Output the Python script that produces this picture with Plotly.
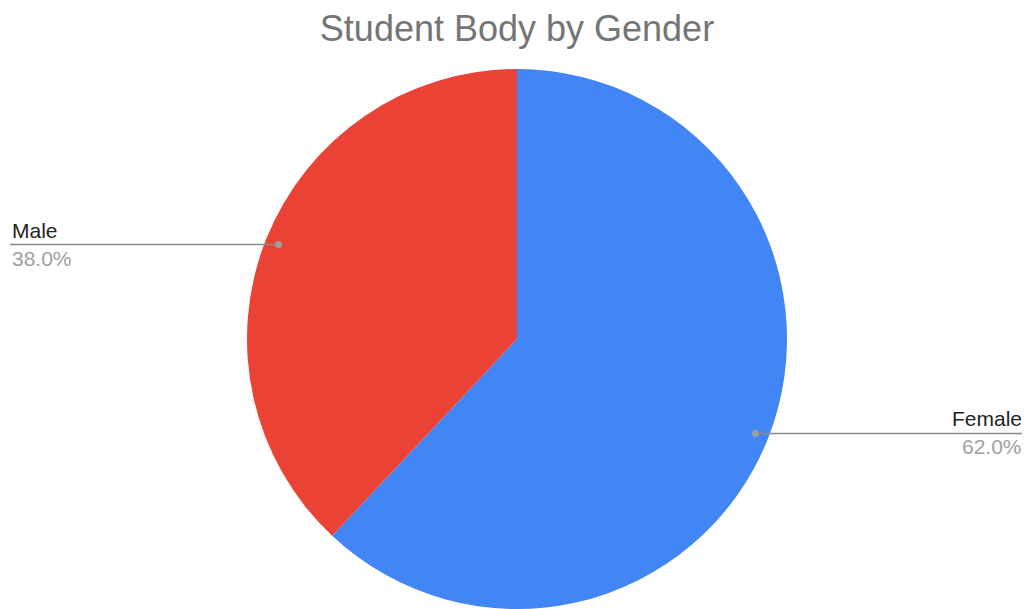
import math
import plotly.graph_objects as go

labels = ["Female", "Male"]
values = [62.0, 38.0]
colors = ["#4285F4", "#EA4335"]
title = "Student Body by Gender"

# page body has an 8px margin, so the figure is sized to fit inside the viewport
W, H = 1022, 601
ML, MR, MT, MB = 0, 4, 61, 0
pw, ph = W - ML - MR, H - MT - MB
R = min(pw, ph) / 2
cx, cy = ML + pw / 2, MT + ph / 2
FONT = "Liberation Sans, Arial"


def to_paper(px, py):
    return (px - ML) / pw, 1 - (py - MT) / ph


fig = go.Figure(go.Pie(
    labels=labels, values=values, sort=False, direction="clockwise",
    rotation=0, marker=dict(colors=colors, line=dict(width=0)),
    textinfo="none", hoverinfo="label+percent", showlegend=False,
))

total = sum(values)
start = 0.0
annotations = []
shapes = []
for lab, v in zip(labels, values):
    frac = v / total
    mid = (start + frac / 2) * 2 * math.pi
    start += frac
    dx, dy = math.sin(mid), -math.cos(mid)
    dotx, doty = cx + 0.95 * R * dx, cy + 0.95 * R * dy
    right = dx > 0
    endx = W - 6 if right else 2
    x0p, y0p = to_paper(dotx, doty)
    x1p, _ = to_paper(endx, doty)
    shapes.append(dict(type="line", xref="paper", yref="paper", x0=x0p, y0=y0p,
                       x1=x1p, y1=y0p, line=dict(color="#8a8a8a", width=1.5)))
    shapes.append(dict(type="circle", xref="paper", yref="paper",
                       x0=x0p - 3.5 / pw, x1=x0p + 3.5 / pw,
                       y0=y0p - 3.5 / ph, y1=y0p + 3.5 / ph,
                       fillcolor="#9e9e9e", line=dict(width=0)))
    anchor = "right" if right else "left"
    annotations.append(dict(text=lab, xref="paper", yref="paper", x=x1p, y=y0p,
                            xanchor=anchor, yanchor="bottom", showarrow=False,
                            yshift=1, font=dict(family=FONT, size=21, color="#222222")))
    annotations.append(dict(text=f"{v / total * 100:.1f}%", xref="paper", yref="paper", x=x1p, y=y0p,
                            xanchor=anchor, yanchor="top", showarrow=False,
                            yshift=0, font=dict(family=FONT, size=21, color="#a0a0a0")))

fig.update_layout(
    width=W, height=H,
    margin=dict(l=ML, r=MR, t=MT, b=MB, autoexpand=False),
    paper_bgcolor="white", plot_bgcolor="white",
    title=dict(text=title, x=509 / W, xanchor="center", y=1 - 20 / H, yanchor="middle",
               font=dict(family=FONT, size=36, color="#757575")),
    shapes=shapes, annotations=annotations,
)

fig.write_html("out.html")
